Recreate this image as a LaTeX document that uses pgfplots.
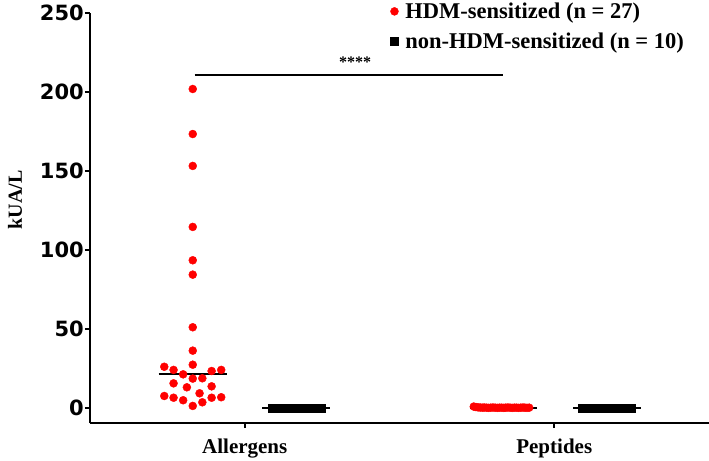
\documentclass[border=0pt]{standalone}
\usepackage{pgfplots}
\pgfplotsset{compat=1.18}
\usepackage{fontspec}
\setmainfont{Liberation Serif}
\newfontfamily\tickfont{DejaVu Sans}

\begin{document}
\begin{tikzpicture}
	\begin{axis}[
			name=ax,
			at={(0,0)}, anchor=south west,
			scale only axis,
			width=619bp, height=410bp,
			xmin=0.5, xmax=2.5,
			ymin=-9.5, ymax=250,
			axis lines*=left,
			axis line style={line width=1.8bp, black},
			tick style={line width=1.8bp, black},
			tick align=outside,
			major tick length=5bp,
			xtick={1,2},
			xticklabels={Allergens,Peptides},
			ytick={0,50,100,150,200,250},
			/pgf/number format/assume math mode=true,
			yticklabel style={font=\tickfont\bfseries\fontsize{21bp}{22bp}\selectfont, inner sep=1bp},
			xticklabel style={font=\bfseries\fontsize{21bp}{24bp}\selectfont, yshift=-7bp},
			ylabel={kUA/L},
			ylabel style={font=\bfseries\fontsize{20bp}{24bp}\selectfont,
					at={(axis description cs:-0.121,0.544)}, anchor=center},
			legend style={at={(axis description cs:0.473,1.035)}, anchor=north west,
					draw=none, fill=none,
					font=\bfseries\fontsize{22.5bp}{24bp}\selectfont,
					row sep=9bp},
			legend image code/.code={
					\path[draw=none] (0cm,0cm) -- (0.3cm+9bp,0cm);
					\draw[#1] plot coordinates {(0.3cm,0cm)};
				},
			legend cell align=left,
			clip=false,
		]

		% HDM-sensitized, allergens
		\addplot[only marks, mark=*, mark size=4bp, red] coordinates {
				(0.832,201.9) (0.832,173.4) (0.832,153.2) (0.832,114.6) (0.832,93.5)
				(0.832,84.4) (0.832,51.1) (0.832,36.3) (0.832,27.4) (0.740,26.1)
				(0.770,24.1) (0.801,21.3) (0.893,23.4) (0.924,24.1) (0.832,18.6)
				(0.863,18.8) (0.770,15.6) (0.813,13.1) (0.893,13.7) (0.854,9.3)
				(0.740,7.6) (0.770,6.5) (0.801,4.9) (0.832,1.3) (0.863,3.6)
				(0.893,6.5) (0.924,6.8)
			};

		% non-HDM-sensitized, allergens
		\addplot[only marks, mark=square*, mark size=4bp, black] coordinates {
				(1.089,0.1) (1.107,0.1) (1.124,0.1) (1.142,0.1) (1.159,0.1)
				(1.177,0.1) (1.194,0.1) (1.212,0.1) (1.229,0.1) (1.247,0.1)
			};

		% HDM-sensitized, peptides
		\addplot[only marks, mark=*, mark size=4bp, red, forget plot] coordinates {
				(1.740,0.9) (1.747,0.6) (1.754,0.4) (1.761,0.3) (1.768,0.2)
				(1.774,0.3) (1.781,0.2) (1.788,0.1) (1.795,0.2) (1.802,0.3)
				(1.809,0.2) (1.816,0.1) (1.823,0.2) (1.830,0.2) (1.837,0.1)
				(1.843,0.2) (1.850,0.3) (1.857,0.2) (1.864,0.1) (1.871,0.2)
				(1.878,0.2) (1.885,0.1) (1.892,0.2) (1.899,0.3) (1.905,0.2)
				(1.912,0.1) (1.919,0.2)
			};

		% non-HDM-sensitized, peptides
		\addplot[only marks, mark=square*, mark size=4bp, black, forget plot] coordinates {
				(2.089,0.1) (2.107,0.1) (2.125,0.1) (2.143,0.1) (2.160,0.1)
				(2.178,0.1) (2.196,0.1) (2.214,0.1) (2.231,0.1) (2.249,0.1)
			};

		% medians
		\addplot[black, line width=1.8bp, forget plot] coordinates {(0.722,21.3) (0.944,21.3)};
		\addplot[black, line width=1.8bp, forget plot] coordinates {(1.057,0.1) (1.276,0.1)};
		\addplot[black, line width=1.8bp, forget plot] coordinates {(1.727,0.2) (1.945,0.2)};
		\addplot[black, line width=1.8bp, forget plot] coordinates {(2.061,0.1) (2.281,0.1)};

		% significance bar
		\addplot[black, line width=1.8bp, forget plot] coordinates {(0.838,210.8) (1.833,210.8)};
		\node[font=\bfseries\fontsize{16bp}{16bp}\selectfont] at (axis cs:1.357,219) {****};

		\legend{HDM-sensitized (n = 27), non-HDM-sensitized (n = 10)}
	\end{axis}
	\pgfresetboundingbox
	\path (-90bp,-38bp) rectangle (619bp,423bp);
\end{tikzpicture}
\end{document}
